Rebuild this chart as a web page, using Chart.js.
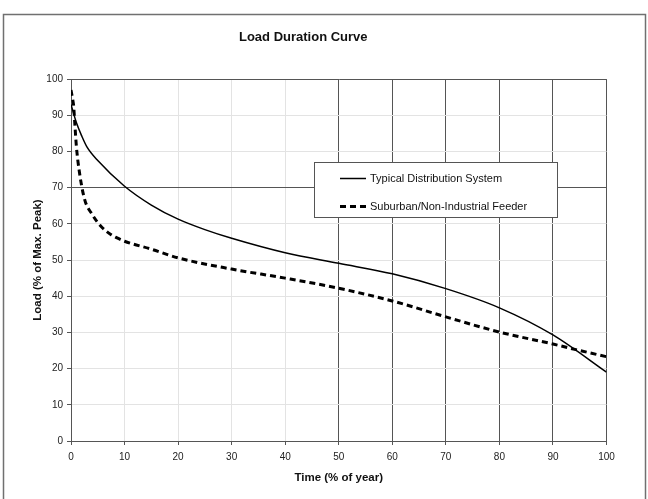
<!DOCTYPE html>
<html><head><meta charset="utf-8">
<script src="https://cdn.jsdelivr.net/npm/chart.js@4.4.0/dist/chart.umd.min.js"></script>
<style>html,body{margin:0;padding:0;background:#fff}canvas{display:block}</style>
</head><body>
<canvas id="c" width="648" height="499"></canvas>
<script>
const chartTitle = 'Load Duration Curve';
const xAxisTitle = 'Time (% of year)';
const yAxisTitle = 'Load (% of Max. Peak)';
const seriesNames = ['Typical Distribution System', 'Suburban/Non-Industrial Feeder'];

const typicalX = [0, 1, 2, 3, 5, 10, 15, 20, 25, 30, 40, 50, 60, 70, 80, 90, 100];
const typicalY = [93, 88, 84.3, 81.2, 77.5, 70.4, 65.2, 61.3, 58.4, 56, 52, 49.1, 46.2, 42.1, 36.8, 29.3, 19];

const feederX = [0, 0.3, 0.5, 0.7, 1, 1.5, 2.5, 4, 5.5, 7.5, 8.5, 10, 15, 20, 30, 40, 50, 60, 70, 80, 90, 95, 100];
const feederY = [97, 94.5, 92.5, 88, 81.5, 75, 67, 62.5, 59.5, 57, 56.2, 55.2, 53, 50.6, 47.5, 45, 42.2, 38.7, 34.3, 30.1, 26.8, 25, 23.3];

const FONT = '"Liberation Sans", Arial, sans-serif';
const DARK = '#555555';
const LIGHT = '#e3e3e3';

function pts(xs, ys) { return xs.map((x, i) => ({ x: x, y: ys[i] })); }

const frame = {
  id: 'frame',
  beforeDraw(chart) {
    const c = chart.ctx;
    c.save();
    c.fillStyle = '#fff';
    c.fillRect(0, 0, chart.width, chart.height);
    c.strokeStyle = '#707070';
    c.lineWidth = 1.5;
    c.strokeRect(3.5, 14.5, 642, 495);
    c.restore();
  }
};

const boxLegend = {
  id: 'boxLegend',
  afterDatasetsDraw(chart) {
    const c = chart.ctx;
    c.save();
    const x0 = 314.5, y0 = 162.5, w = 243, h = 55;
    c.fillStyle = '#fff';
    c.fillRect(x0, y0, w, h);
    c.strokeStyle = DARK;
    c.lineWidth = 1;
    c.strokeRect(x0, y0, w, h);
    c.font = '11px ' + FONT;
    c.fillStyle = '#111';
    c.textBaseline = 'middle';
    const rows = [178.5, 206.5];
    chart.data.datasets.forEach((ds, i) => {
      c.strokeStyle = ds.borderColor;
      c.lineWidth = ds.borderWidth;
      c.setLineDash(ds.borderDash || []);
      c.beginPath();
      c.moveTo(340, rows[i]);
      c.lineTo(366, rows[i]);
      c.stroke();
      c.setLineDash([]);
      c.fillText(seriesNames[i], 370, rows[i]);
    });
    c.restore();
  }
};

new Chart(document.getElementById('c'), {
  type: 'line',
  data: {
    datasets: [
      {
        label: seriesNames[0],
        data: pts(typicalX, typicalY),
        borderColor: '#000',
        borderWidth: 1.5,
        pointRadius: 0,
        cubicInterpolationMode: 'monotone',
        fill: false
      },
      {
        label: seriesNames[1],
        data: pts(feederX, feederY),
        borderColor: '#000',
        borderWidth: 3,
        borderDash: [6, 4],
        pointRadius: 0,
        cubicInterpolationMode: 'monotone',
        fill: false
      }
    ]
  },
  options: {
    responsive: false,
    animation: false,
    layout: { padding: { left: 0, right: 41.5, top: 0, bottom: 0 } },
    plugins: {
      legend: { display: false },
      tooltip: { enabled: false },
      title: {
        display: true,
        text: chartTitle,
        color: '#111',
        font: { family: FONT, size: 13, weight: 'bold' },
        padding: { top: 29.5, bottom: 34 }
      }
    },
    scales: {
      x: {
        type: 'linear',
        min: 0, max: 100,
        afterFit: s => { s.height = 58; },
        ticks: { stepSize: 10, color: '#222', padding: 6, font: { family: FONT, size: 10 } },
        grid: {
          color: ctx => (ctx.tick && ctx.tick.value >= 50) ? DARK : LIGHT,
          tickColor: DARK,
          tickLength: 4,
          lineWidth: 1
        },
        border: { color: DARK, width: 1 },
        title: { display: true, text: xAxisTitle, color: '#111', font: { family: FONT, size: 11.5, weight: 'bold' }, padding: { top: 0, bottom: 14 } }
      },
      y: {
        min: 0, max: 100,
        afterFit: s => { s.width = 71; },
        ticks: { stepSize: 10, color: '#222', padding: 4, font: { family: FONT, size: 10 } },
        grid: {
          color: ctx => (ctx.tick && (ctx.tick.value === 70 || ctx.tick.value === 100)) ? DARK : LIGHT,
          tickColor: DARK,
          tickLength: 4,
          lineWidth: 1
        },
        border: { color: DARK, width: 1 },
        title: { display: true, text: yAxisTitle, color: '#111', font: { family: FONT, size: 11.5, weight: 'bold' }, padding: { top: 31, bottom: 0 } }
      }
    }
  },
  plugins: [frame, boxLegend]
});
</script>
</body></html>
